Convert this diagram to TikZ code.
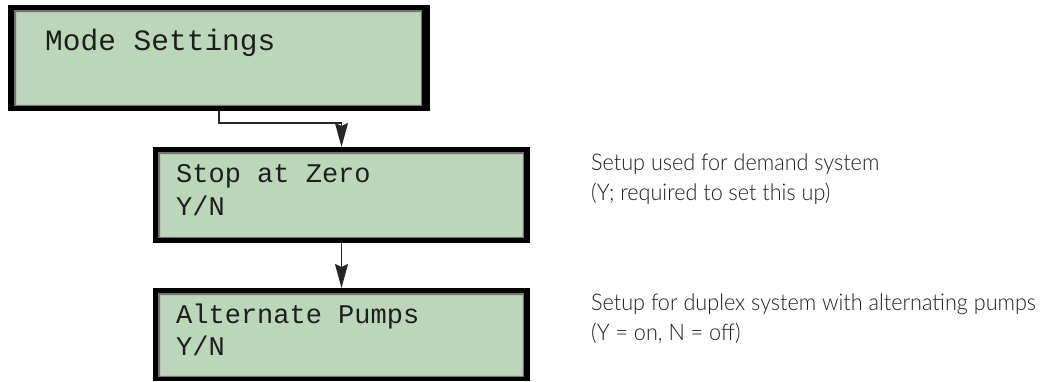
\documentclass[tikz,border=0pt]{standalone}
\usepackage{fontspec}
\usetikzlibrary{arrows.meta}
\newfontfamily\lcdmono{Liberation Mono}
\newfontfamily\descfont[FakeStretch=0.94]{Lato Light}
\definecolor{lcdgreen}{RGB}{188,214,186}
\definecolor{lcdink}{RGB}{30,30,30}
\definecolor{descink}{RGB}{30,30,30}
\newcommand\lcdinner[5]{%
  \fill[black!55] ([xshift=#2pt,yshift=-#3pt]#1.north west) rectangle ([xshift=-#4pt,yshift=#5pt]#1.south east);
  \fill[black!25] ([xshift=#2pt+1.5pt,yshift=-#3pt-1.5pt]#1.north west) rectangle ([xshift=-#4pt-1.5pt,yshift=#5pt+1.5pt]#1.south east);
  \fill[lcdgreen] ([xshift=#2pt+3pt,yshift=-#3pt-3pt]#1.north west) rectangle ([xshift=-#4pt-2.5pt,yshift=#5pt+2.5pt]#1.south east);
}
\tikzset{
  lcdframe/.style={fill=black, draw=none, inner sep=0pt, outer sep=0pt},
  lcdtext/.style={anchor=base west, inner sep=0pt, text=lcdink},
  desc/.style={anchor=base west, inner sep=0pt, text=descink, font=\descfont\fontsize{23}{28}\selectfont},
  conn/.style={draw=black!85, line width=1.6pt, -{Stealth[length=24pt, width=13pt, inset=3pt]}},
}
\begin{document}
\begin{tikzpicture}[x=1pt, y=-1pt]
\useasboundingbox (0,0) rectangle (1051,381);
% box 1
\node[lcdframe, minimum width=422pt, minimum height=106pt] (m) at (219,58) {};
\lcdinner{m}{6}{5}{8}{5}
\node[lcdtext, font=\lcdmono\fontsize{29.5}{30}\selectfont] (mt) at (45,50) {Mode Settings};
% box 2
\node[lcdframe, minimum width=377pt, minimum height=96pt] (s) at (341.5,195) {};
\lcdinner{s}{5}{5}{6}{5}
\node[lcdtext, font=\lcdmono\fontsize{27}{28}\selectfont] (st1) at (176,182) {Stop at Zero};
\node[lcdtext, font=\lcdmono\fontsize{27}{28}\selectfont] (st2) at (176,215) {Y/N};
% box 3
\node[lcdframe, minimum width=377pt, minimum height=93pt] (a) at (341.5,334.5) {};
\lcdinner{a}{5}{5}{6}{4}
\node[lcdtext, font=\lcdmono\fontsize{27}{28}\selectfont] (at1) at (176,323) {Alternate Pumps};
\node[lcdtext, font=\lcdmono\fontsize{27}{28}\selectfont] (at2) at (176,355) {Y/N};
% connectors
\draw[conn] (m.south) -- ++(0,12) -| (s.north);
\draw[conn] (s.south) -- (a.north);
% descriptions
\node[desc] (d1a) at (591,170) {Setup used for demand system};
\node[desc] (d1b) at (591,200) {(Y; required to set this up)};
\node[desc] (d2a) at (591,310) {Setup for duplex system with alternating pumps};
\node[desc] (d2b) at (591,340) {(Y = on, N = off)};
\end{tikzpicture}
\end{document}
